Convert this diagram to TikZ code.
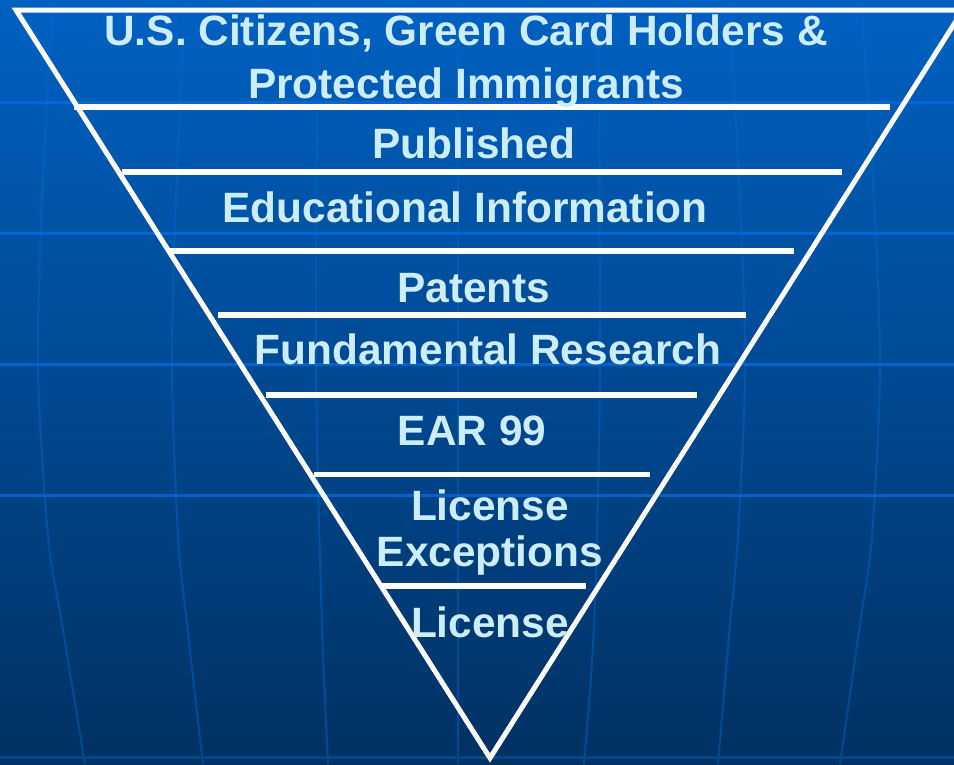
\documentclass[tikz,border=0pt]{standalone}
\usepackage{fontspec}
\setmainfont{Liberation Sans}
\definecolor{bgtop}{RGB}{0,97,194}
\definecolor{bgmid}{RGB}{0,80,160}
\definecolor{bgbot}{RGB}{0,49,98}
\definecolor{gridc}{RGB}{0,110,230}
\definecolor{meric}{RGB}{0,105,210}
\definecolor{txt}{RGB}{204,236,255}
\tikzset{
  gridline/.style={gridc, opacity=0.72, line width=3pt},
  meridian/.style={meric, opacity=0.45, line width=2pt},
  tri/.style={white, line width=5pt, line join=miter},
  tier/.style={white, line width=5.5pt},
  lbl/.style={anchor=base, inner sep=0pt, text=txt, font=\fontsize{42.4}{48}\selectfont\bfseries}
}
\begin{document}
\begin{tikzpicture}[x=1pt,y=-1pt]
\useasboundingbox (0,0) rectangle (954,764);
\shade[top color=bgtop, middle color=bgmid, bottom color=bgbot] (0,0) rectangle (954,764);
\begin{scope}
\clip (0,0) rectangle (954,764);
% meridians
\draw[meridian] (458,0) -- (458,764);
\draw[meridian] plot[smooth] coordinates {(53,0) (42,200) (38,370) (48,536) (62,624) (85,764)};
\draw[meridian] plot[smooth] coordinates {(185,0) (176,200) (172,370) (178,536) (187,624) (203,764)};
\draw[meridian] plot[smooth] coordinates {(318,0) (316,370) (322,624) (328,764)};
\draw[meridian] plot[smooth] coordinates {(861,0) (874,200) (880,370) (872,536) (860,624) (840,764)};
\draw[meridian] plot[smooth] coordinates {(729,0) (740,200) (745,370) (738,536) (730,624) (718,764)};
\draw[meridian] plot[smooth] coordinates {(598,0) (600,370) (594,624) (584,764)};
% parallels
\foreach \yy in {102,233,364,495} \draw[gridline] (0,\yy) -- (954,\yy);
\draw[line width=3pt, color={rgb,255:red,0;green,72;blue,140}] (0,757) -- (954,757);
% triangle
\draw[tri] (16,10) -- (963,10) -- (490,758) -- cycle;
\end{scope}
% tier lines
\draw[tier] (74,107) -- (890,107);
\draw[tier] (122,172) -- (842,172);
\draw[tier] (170,251) -- (794,251);
\draw[tier] (218,315) -- (746,315);
\draw[tier] (266,395) -- (697,395);
\draw[tier] (314,474.5) -- (650,474.5);
\draw[tier] (381,586) -- (586,586);
% labels
\node[lbl] (t1a) at (466,45) {U.S. Citizens, Green Card Holders \&};
\node[lbl] (t1b) at (466,98) {Protected Immigrants};
\node[lbl] (t2) at (474,158) {Published};
\node[lbl] (t3) at (465,222) {Educational Information};
\node[lbl] (t4) at (474,302) {Patents};
\node[lbl] (t5) at (488,364) {Fundamental Research};
\node[lbl] (t6) at (472,445) {EAR 99};
\node[lbl] (t7a) at (490,520) {License};
\node[lbl] (t7b) at (490,566) {Exceptions};
\node[lbl] (t8) at (490,637) {License};
\end{tikzpicture}
\end{document}
